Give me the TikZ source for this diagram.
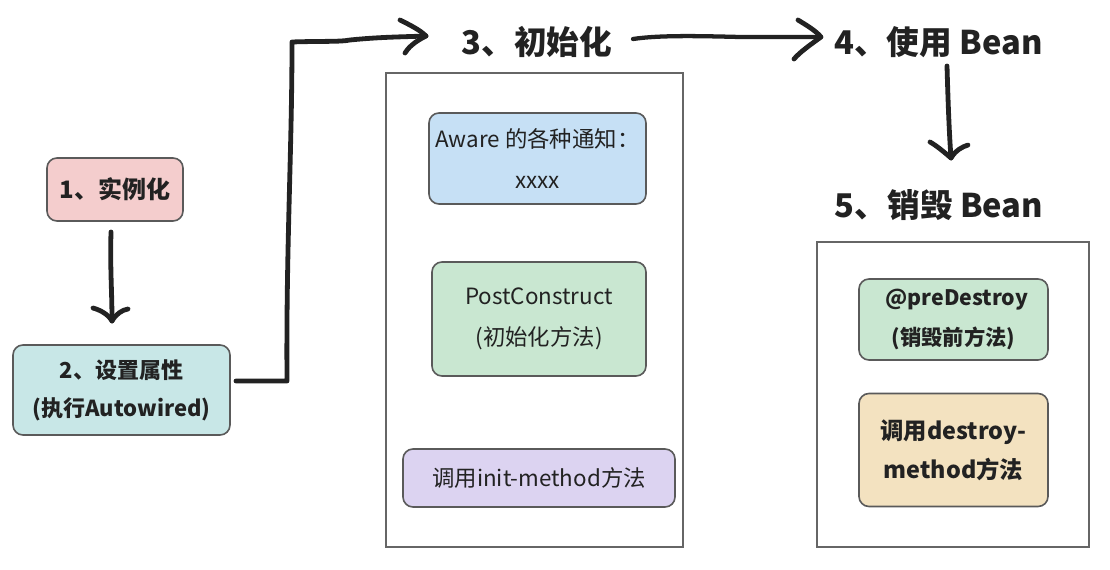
\documentclass[tikz,border=0pt]{standalone}
\usepackage{fontspec}
\setmainfont{Noto Sans CJK SC}
\begin{document}
\begin{tikzpicture}[x=0.75pt,y=-0.75pt,
  box/.style={draw=boxgray,line width=1.2pt,rounded corners=7.5pt,align=center,text=ink,inner sep=0pt},
  frame/.style={draw=framegray,line width=1.2pt,fill=white},
  hand/.style={draw=ink,line width=3.6pt,line cap=round,line join=round},
  ttl/.style={text=ink,font=\fontsize{24.5}{28}\selectfont\bfseries,inner sep=0pt},
  reg/.style={font=\fontsize{16.8}{31}\selectfont},
  bld/.style={font=\fontsize{16}{29.5}\selectfont\bfseries},
]
\definecolor{ink}{HTML}{222222}
\definecolor{boxgray}{HTML}{5A5A5A}
\definecolor{framegray}{HTML}{666666}
\definecolor{cpink}{HTML}{F4CDCD}
\definecolor{ccyan}{HTML}{C8E7E7}
\definecolor{cblue}{HTML}{C6E0F5}
\definecolor{cgreen}{HTML}{C9E7D1}
\definecolor{clav}{HTML}{DCD3F1}
\definecolor{cwheat}{HTML}{F3E2C0}
\useasboundingbox (0,0) rectangle (1110,570);
\fill[white] (0,0) rectangle (1110,570);

% containers
\node[frame,minimum width=297*0.75pt,minimum height=474*0.75pt] (c3) at (534.5,310) {};
\node[frame,minimum width=272*0.75pt,minimum height=305*0.75pt] (c5) at (953,394.5) {};

% boxes
\node[box,fill=cpink,minimum width=136*0.75pt,minimum height=63*0.75pt,font=\fontsize{18}{22}\selectfont\bfseries] (b1) at (115,189.5) {1、实例化};
\node[box,fill=ccyan,minimum width=217*0.75pt,minimum height=90*0.75pt,font=\fontsize{16.5}{28.5}\selectfont\bfseries] (b2) at (121.5,390) {2、设置属性\\(执行Autowired)};
\node[box,fill=cblue,minimum width=217*0.75pt,minimum height=91*0.75pt,reg] (aw) at (537.5,158.5) {Aware 的各种通知：\\xxxx};
\node[box,fill=cgreen,minimum width=214*0.75pt,minimum height=114*0.75pt,reg] (pc) at (539,319) {PostConstruct\\(初始化方法)};
\node[box,fill=clav,minimum width=272*0.75pt,minimum height=58*0.75pt,reg] (im) at (539,478) {调用init-method方法};
\node[box,fill=cgreen,minimum width=189*0.75pt,minimum height=81*0.75pt,bld] (pd) at (953.5,319.5) {\hspace*{5pt}@preDestroy\\(销毁前方法)};
\node[box,fill=cwheat,minimum width=189*0.75pt,minimum height=113*0.75pt,font=\fontsize{17.5}{29.5}\selectfont\bfseries] (dm) at (953.5,450) {调用destroy-\\method方法};

% titles
\node[ttl] (t3) at (537,42) {3、初始化};
\node[ttl] (t4) at (938.5,42) {4、使用 Bean};
\node[ttl] (t5) at (939,205) {5、销毁 Bean};

% arrow 1 -> 2
\coordinate (p1) at (111,232);
\coordinate (q1) at (112,321);
\draw[hand] (p1) .. controls (110,270) and (112,290) .. (q1);
\draw[hand] (93,308) .. controls (100,310) and (108,314) .. (q1) .. controls (116,314) and (122,310) .. (128,309);

% connector 2 -> 3
\coordinate (p2) at (236,381);
\coordinate (k2) at (287,381);
\coordinate (k3) at (292,42);
\coordinate (q2) at (426,36);
\draw[hand] (p2) -- (k2) .. controls (286,250) and (292,150) .. (k3) .. controls (320,41) and (340,42) .. (350,40) .. controls (380,37) and (400,37) .. (q2);
\draw[hand] (400,20) .. controls (410,25) and (420,30) .. (q2) .. controls (414,42) and (408,48) .. (405,53);

% arrow 3 -> 4
\coordinate (p3) at (633,39);
\coordinate (q3) at (821,37);
\draw[hand,line width=3.2pt] (p3) .. controls (660,35) and (700,36) .. (740,37) .. controls (780,37) and (800,37) .. (q3);
\draw[hand] (798,20) .. controls (806,25) and (815,30) .. (q3) .. controls (810,45) and (800,52) .. (794,59);

% arrow 4 -> 5
\coordinate (p4) at (947,66);
\coordinate (q4) at (951,158);
\draw[hand] (p4) .. controls (948,100) and (949,130) .. (q4);
\draw[hand] (930,142) .. controls (937,146) and (944,152) .. (q4) .. controls (956,150) and (962,147) .. (968,145);
\end{tikzpicture}
\end{document}
